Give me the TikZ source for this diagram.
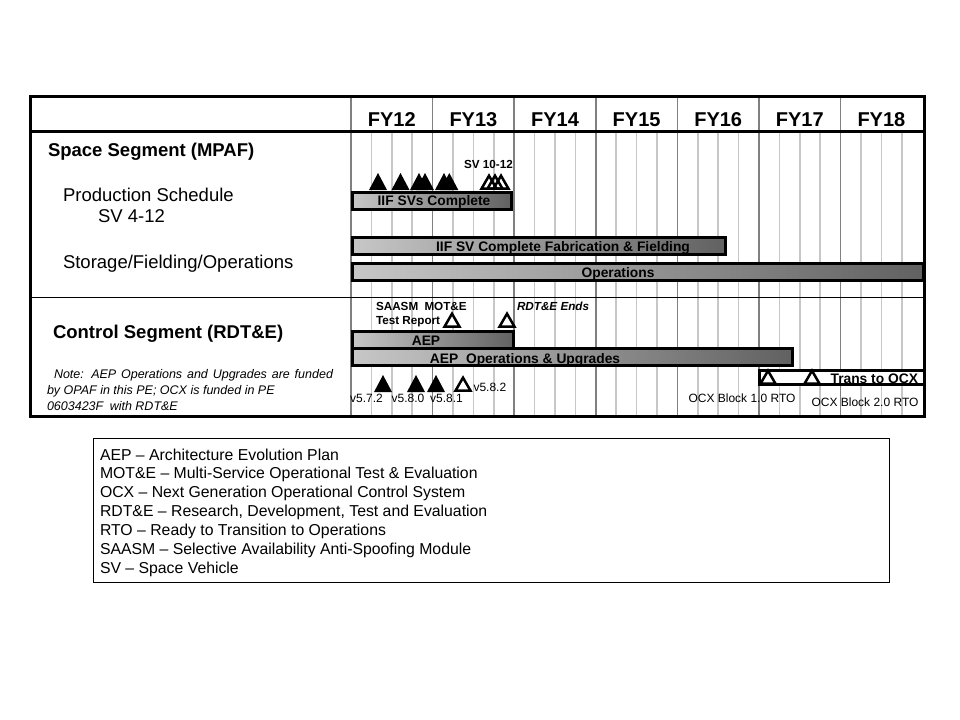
\documentclass[tikz,border=0pt]{standalone}
\usepackage{fontspec}
\setmainfont{Liberation Sans}
\begin{document}
\begin{tikzpicture}[x=1bp,y=-1bp]
\tikzset{
  every node/.style={inner sep=0pt, outer sep=0pt},
  qline/.style={draw=black!22, line width=1.5bp},
  yline/.style={draw=black!50, line width=1.5bp},
  gbar/.style={draw=black, line width=3bp, left color=black!22, right color=black!62, anchor=north west, minimum height=17bp},
  wbox/.style={draw=black, line width=3bp, fill=white, anchor=north west, minimum height=14bp},
  fytxt/.style={font=\fontsize{20bp}{24bp}\selectfont\bfseries, anchor=base},
  segtxt/.style={font=\fontsize{18.5bp}{22bp}\selectfont\bfseries, anchor=base west},
  labtxt/.style={font=\fontsize{18.5bp}{22bp}\selectfont, anchor=base west},
  notetxt/.style={font=\fontsize{12.5bp}{15bp}\selectfont\itshape, anchor=base west},
  bartxt/.style={font=\fontsize{13.8bp}{16bp}\selectfont\bfseries, anchor=base},
  smalltxt/.style={font=\fontsize{11.7bp}{14bp}\selectfont\bfseries, anchor=base west},
  vertxt/.style={font=\fontsize{12bp}{14bp}\selectfont, anchor=base},
  legtxt/.style={font=\fontsize{15.8bp}{19bp}\selectfont, anchor=base west},
  mopen/.style={draw=black, line width=2.5bp, line join=miter},
}
\newcommand\fms[2]{\fill[black] (#1-9,#2) -- (#1,#2-17) -- (#1+9,#2) -- cycle;}
\newcommand\oms[3]{\draw[mopen,#3] (#1-7.5,#2-1.3) -- (#1,#2-14.3) -- (#1+7.5,#2-1.3) -- cycle;}

\useasboundingbox (0,0) rectangle (960,720);
\fill[white] (0,0) rectangle (960,720);

% grid
\foreach \k in {0,...,6} {
  \pgfmathsetmacro\xx{351+81.6*\k}
  \foreach \q in {1,2,3} { \draw[qline] (\xx+20.4*\q,132) -- (\xx+20.4*\q,416); }
  \draw[yline] (\xx,96) -- (\xx,416);
}
% year labels
\foreach \k/\t in {0/FY12,1/FY13,2/FY14,3/FY15,4/FY16,5/FY17,6/FY18} {
  \node[fytxt] (fy\k) at (351+81.6*\k+40.8,127) {\t};
}
% dividers
\draw[line width=1bp] (30,297) -- (925,297);
\draw[line width=2.5bp] (30,131.5) -- (925,131.5);

% left labels
\node[segtxt] (space) at (48,157) {Space Segment (MPAF)};
\node[labtxt] (prod) at (63,201) {Production Schedule};
\node[labtxt] (sv412) at (98,222.3) {SV 4-12};
\node[labtxt] (stor) at (63,268.3) {Storage/Fielding/Operations};
\node[segtxt] (ctrl) at (53,338.3) {Control Segment (RDT\&E)};
\node[notetxt] (note1) at (54,378.3) {\makebox[279bp][s]{Note: AEP Operations and Upgrades are funded}};
\node[notetxt] (note2) at (47,394.3) {by OPAF in this PE; OCX is funded in PE};
\node[notetxt] (note3) at (47,410) {0603423F\hspace{3bp} with RDT\&E};

% space segment
\node[gbar, minimum width=159bp] (iif) at (352.5,192.5) {};
\node[bartxt] (iift) at (434,205) {IIF SVs Complete};
\foreach \x in {378,400.5,419,425,444,449.3} { \fms{\x}{190} }
\foreach \x in {489,495,501} { \oms{\x}{190}{} }
\node[smalltxt] (sv1012) at (464,168.3) {SV 10-12};

\node[gbar, minimum width=373bp] (fab) at (352.5,237.5) {};
\node[bartxt] (fabt) at (563,251.5) {IIF SV Complete Fabrication \& Fielding};
\node[gbar, minimum width=571bp] (ops) at (352.5,263.5) {};
\node[bartxt] (opst) at (618,277.5) {Operations};

% control segment
\node[smalltxt] (saasm) at (376,310.7) {SAASM\hspace{3bp} MOT\&E};
\node[smalltxt] (testrep) at (376,324.3) {Test Report};
\node[smalltxt, font=\fontsize{11.7bp}{14bp}\selectfont\bfseries\itshape] (rdte) at (517,310.5) {RDT\&E Ends};
\oms{452}{328}{fill=white}
\oms{507}{328}{fill=white}

\node[gbar, minimum width=161bp] (aep) at (352.5,331.5) {};
\node[bartxt] (aept) at (426,345.5) {AEP};
\node[gbar, minimum width=440bp] (aepops) at (352.5,348.5) {};
\node[bartxt] (aepopst) at (525,363.3) {AEP\hspace{4bp} Operations \& Upgrades};

\node[wbox, minimum width=165bp] (trans) at (759.5,370.5) {};
\node[bartxt, anchor=base east] (transt) at (918,383.3) {Trans to OCX};
\oms{768}{385}{}
\oms{812}{385}{}

\foreach \x in {383,416,436} { \fms{\x}{392} }
\oms{463}{392}{fill=white}
\node[vertxt] (v572) at (366.5,402) {v5.7.2};
\node[vertxt] (v580) at (408,402) {v5.8.0};
\node[vertxt] (v581) at (446.5,402) {v5.8.1};
\node[vertxt, anchor=base west] (v582) at (473.5,391) {v5.8.2};
\node[vertxt] (ocx1) at (742,402.5) {OCX Block 1.0 RTO};
\node[vertxt] (ocx2) at (865,406.5) {OCX Block 2.0 RTO};

% frame
\draw[line width=3bp] (30,96.5) rectangle (924.5,416);

% legend
\draw[line width=1bp] (93,438.5) rectangle (889.5,582);
\foreach \i/\t in {0/{AEP -- Architecture Evolution Plan},
                   1/{MOT\&E -- Multi-Service Operational Test \& Evaluation},
                   2/{OCX -- Next Generation Operational Control System},
                   3/{RDT\&E -- Research, Development, Test and Evaluation},
                   4/{RTO -- Ready to Transition to Operations},
                   5/{SAASM -- Selective Availability Anti-Spoofing Module},
                   6/{SV -- Space Vehicle}} {
  \node[legtxt] (leg\i) at (100,460+18.9*\i) {\t};
}
\end{tikzpicture}
\end{document}
